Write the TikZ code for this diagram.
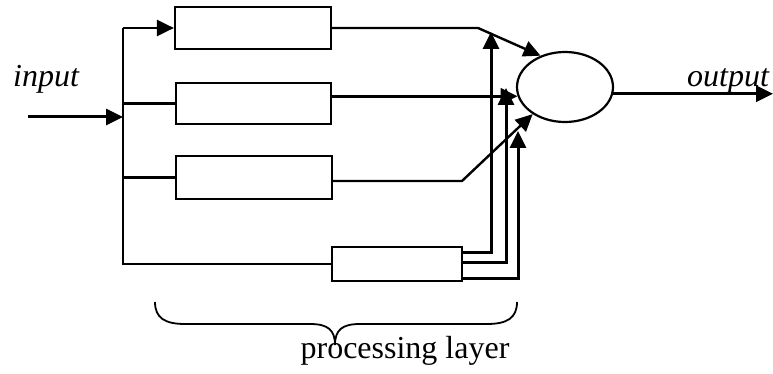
\documentclass[tikz,border=0pt]{standalone}
\usepackage{fontspec}
\setmainfont{Liberation Serif}
\usetikzlibrary{arrows.meta,shapes.geometric}

\tikzset{
  unit/.style={draw, line width=2.2pt, rectangle, inner sep=0pt},
  sumnode/.style={draw, line width=2.2pt, ellipse, inner sep=0pt,
    minimum width=96pt, minimum height=70pt},
  feed/.style={line width=2.2pt},
  signal/.style={line width=3pt, -{Triangle[length=17pt,width=16pt]}},
  label/.style={font=\fontsize{32}{38}\selectfont, inner sep=0pt}
}

\begin{document}
\begin{tikzpicture}[x=1pt, y=-1pt]
  \useasboundingbox (0,0) rectangle (773,374);

  % processing units
  \node[unit, minimum width=156pt, minimum height=42pt] (b1) at (253,28) {};
  \node[unit, minimum width=155pt, minimum height=41pt] (b2) at (253.5,103.5) {};
  \node[unit, minimum width=156pt, minimum height=43pt] (b3) at (254,177.5) {};
  \node[unit, minimum width=130pt, minimum height=34pt] (b4) at (397,264) {};

  % combining unit
  \node[sumnode] (e) at (565,87) {};

  % input distribution bus
  \coordinate (in) at (28,117);
  \coordinate (top) at (123,28);
  \coordinate (bot) at (123,264);
  \draw[feed] (top) -- (bot) -- (b4.west);
  \draw[signal, line width=2.4pt] (top) -- (b1.west);
  \draw[feed] (top |- b2.west) -- (b2.west);
  \draw[feed] (top |- b3.west) -- (b3.west);
  \draw[signal] (in) -- (top |- in);

  % unit outputs into the combiner
  \coordinate (k1) at (478,28);
  \coordinate (k3) at (462,181);
  \draw[signal, line width=2.4pt] (b1.east) -- (k1) -- (e.128);
  \draw[signal] (b2.east |- e.191) -- (e.191);
  \draw[signal, line width=2.4pt] (b3.east |- k3) -- (k3) -- (e.220);

  % three outputs of the lower unit
  \coordinate (t1) at (491,32);
  \coordinate (t2) at (506,88);
  \coordinate (t3) at (518,131);
  \draw[signal] (b4.east |- 0,252) -| (t1);
  \draw[signal] (b4.east |- 0,262) -| (t2);
  \draw[signal] (b4.east |- 0,278) -| (t3);

  % result
  \coordinate (out) at (773,93);
  \draw[signal] (e.352) -- (e.352 -| out);

  % labels
  \node[label, anchor=base west] (lin) at (13,87) {\itshape input};
  \node[label, anchor=base west] (lout) at (687,87) {\itshape output};

  % brace under the layer
  \draw[line width=1.8pt] (155,302) .. controls (155,318) and (165,324) .. (185,324)
    -- (310,324) .. controls (328,324) and (335,330) .. (335,345)
    .. controls (335,330) and (342,324) .. (360,324)
    -- (487,324) .. controls (507,324) and (517,318) .. (517,302);
  \node[label, anchor=base] (lay) at (405,358) {processing layer};
\end{tikzpicture}
\end{document}
